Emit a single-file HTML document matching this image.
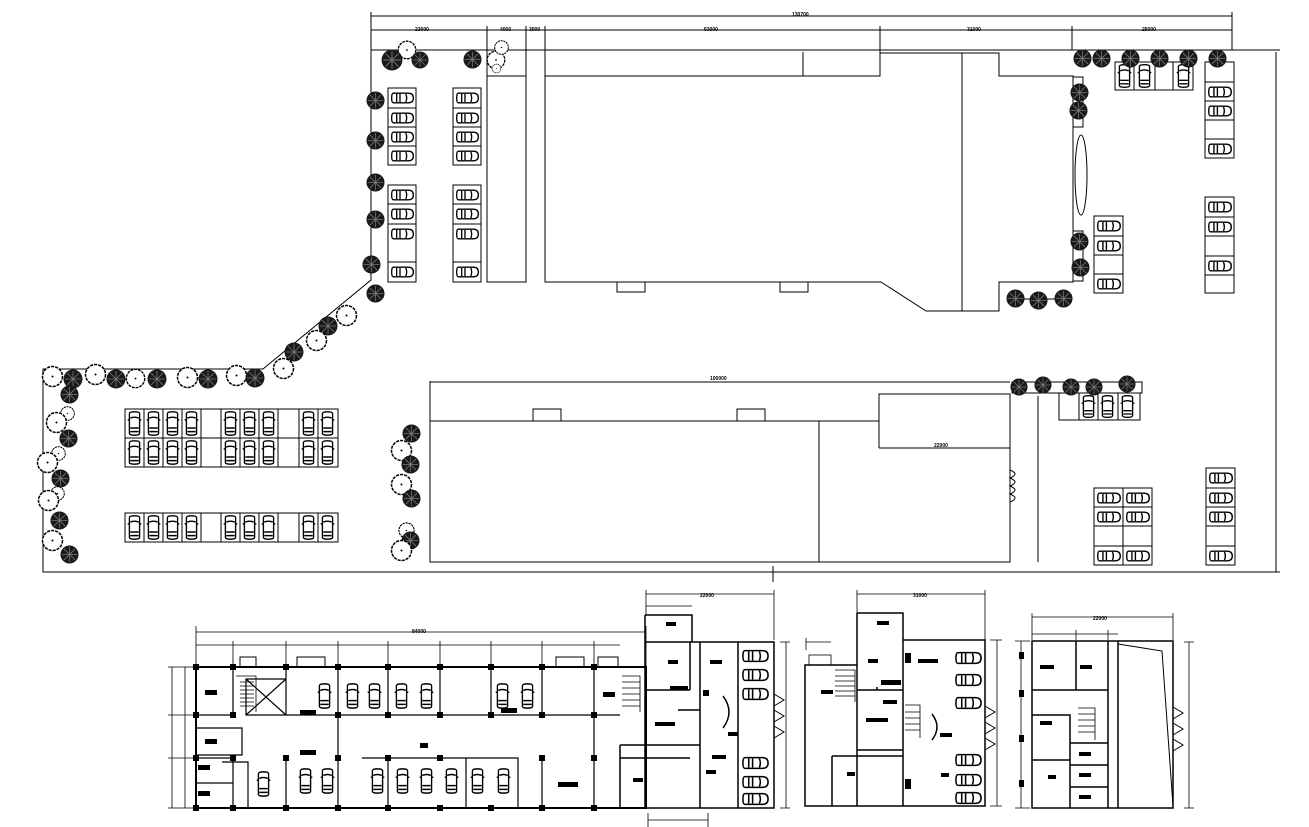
<!DOCTYPE html>
<html><head><meta charset="utf-8"><style>
html,body{margin:0;padding:0;background:#fff;}
svg{display:block;}
text{font-family:"Liberation Sans",sans-serif;font-size:5px;font-weight:bold;fill:#000;}
</style></head><body>
<svg width="1309" height="827" viewBox="0 0 1309 827" xmlns="http://www.w3.org/2000/svg">
<defs>
<symbol id="ch" viewBox="0 0 30 20" preserveAspectRatio="none"><g fill="none" stroke="#000" stroke-width="1.6"><path d="M4 4H22Q28 4 28 10Q28 16 22 16H4Q2 16 2 10Q2 4 4 4Z"/><path d="M8 5V15M12 5V15M19 5Q21 10 19 15"/></g></symbol>
<symbol id="cv" viewBox="0 0 20 30" preserveAspectRatio="none"><g fill="none" stroke="#000" stroke-width="1.6"><path d="M4 4Q4 2 10 2Q16 2 16 4V26Q16 28 10 28Q4 28 4 26Z"/><path d="M5 9Q10 7 15 9M5 20H15M5 24H15M2 11H4M16 11H18"/></g></symbol>
<symbol id="td" viewBox="0 0 20 20"><circle cx="10" cy="10" r="9.5" fill="#1a1a1a"/><g stroke="#777" stroke-width="0.8"><path d="M10 2V18M2 10H18M4 4L16 16M16 4L4 16"/></g></symbol>
<symbol id="to" viewBox="0 0 20 20"><circle cx="10" cy="10" r="8" fill="#fff" stroke="#000" stroke-width="1.2" stroke-dasharray="2.5 0.8"/><circle cx="10" cy="10" r="0.8" fill="#000"/></symbol>
</defs>
<g fill="none" stroke="#000" stroke-width="1">
<path d="M371 50H1280M371 50V280L263 369H43V572H1280"/>
<path d="M1276 52V572"/>
<path d="M371 16H1232M371 30H1232M371 12V50M487 26V76M526 26V76M545 26V76M880 26V76M1072 26V50M1232 12V50M803 52V76"/>
<rect x="487" y="76" width="39" height="206"/>
<path d="M545 76H880V53H999V76H1073V282H999V311H926L881 282H545Z"/>
<path d="M962 53V311"/>
<rect x="617" y="282" width="28" height="10"/><rect x="780" y="282" width="28" height="10"/>
<ellipse cx="1081" cy="175" rx="6" ry="40"/>
<rect x="1073" y="77" width="10" height="50"/><rect x="1073" y="231" width="10" height="50"/>
<path d="M1015 299H1065"/>
<path d="M388 88H416V165H388ZM388 185H416V282H388ZM388 108H416M388 127H416M388 146H416M388 204H416M388 224H416M388 262H416"/>
<path d="M453 88H481V165H453ZM453 185H481V282H453ZM453 108H481M453 127H481M453 146H481M453 204H481M453 224H481M453 262H481"/>
<path d="M1115 62H1193V90H1115ZM1134 62V90M1155 62V90M1173 62V90"/>
<path d="M1205 62H1234V158H1205ZM1205 82H1234M1205 101H1234M1205 120H1234M1205 139H1234"/>
<path d="M1205 197H1234V293H1205ZM1205 217H1234M1205 236H1234M1205 256H1234M1205 275H1234"/>
<path d="M1094 216H1123V293H1094ZM1094 236H1123M1094 255H1123M1094 274H1123"/>
<path d="M125 409H338V467H125ZM125 438H338M144 409V467M163 409V467M182 409V467M201 409V467M221 409V467M240 409V467M259 409V467M278 409V467M299 409V467M318 409V467"/>
<path d="M125 513H338V542H125ZM144 513V542M163 513V542M182 513V542M201 513V542M221 513V542M240 513V542M259 513V542M278 513V542M299 513V542M318 513V542"/>
<path d="M430 381V562H1010V394H879V421H430M430 382H1010"/>
<path d="M819 421V562M879 448H1010M879 421V448M1038 396V562"/>
<rect x="533" y="409" width="28" height="12"/><rect x="737" y="409" width="28" height="12"/>
<path d="M1010 470Q1020 474 1010 478Q1020 482 1010 486Q1020 490 1010 494Q1020 498 1010 502"/>
<path d="M773 566V582"/>
<rect x="1012" y="382" width="130" height="11"/>
<path d="M1059 393H1140V420H1059ZM1079 393V420M1098 393V420M1118 393V420"/>
<path d="M1094 488H1152V565H1094ZM1123 488V565M1094 507H1152M1094 526H1152M1094 546H1152"/>
<path d="M1206 468H1235V565H1206ZM1206 488H1235M1206 507H1235M1206 526H1235M1206 546H1235"/>
</g>
<g>
<use href="#ch" x="390" y="90" width="25" height="16"/><use href="#ch" x="390" y="110" width="25" height="16"/><use href="#ch" x="390" y="129" width="25" height="16"/><use href="#ch" x="390" y="148" width="25" height="16"/><use href="#ch" x="390" y="187" width="25" height="16"/><use href="#ch" x="390" y="206" width="25" height="16"/><use href="#ch" x="390" y="226" width="25" height="16"/><use href="#ch" x="390" y="264" width="25" height="16"/>
<use href="#ch" x="455" y="90" width="25" height="16"/><use href="#ch" x="455" y="110" width="25" height="16"/><use href="#ch" x="455" y="129" width="25" height="16"/><use href="#ch" x="455" y="148" width="25" height="16"/><use href="#ch" x="455" y="187" width="25" height="16"/><use href="#ch" x="455" y="206" width="25" height="16"/><use href="#ch" x="455" y="226" width="25" height="16"/><use href="#ch" x="455" y="264" width="25" height="16"/>
<use href="#cv" x="1116" y="63" width="17" height="26"/><use href="#cv" x="1136" y="63" width="17" height="26"/><use href="#cv" x="1175" y="63" width="17" height="26"/>
<use href="#ch" x="1207" y="84" width="26" height="16"/><use href="#ch" x="1207" y="103" width="26" height="16"/><use href="#ch" x="1207" y="141" width="26" height="16"/>
<use href="#ch" x="1207" y="199" width="26" height="16"/><use href="#ch" x="1207" y="219" width="26" height="16"/><use href="#ch" x="1207" y="258" width="26" height="16"/>
<use href="#ch" x="1096" y="218" width="26" height="16"/><use href="#ch" x="1096" y="238" width="26" height="16"/><use href="#ch" x="1096" y="276" width="26" height="16"/>
<use href="#cv" x="126" y="410" width="17" height="27"/><use href="#cv" x="145" y="410" width="17" height="27"/><use href="#cv" x="164" y="410" width="17" height="27"/><use href="#cv" x="183" y="410" width="17" height="27"/><use href="#cv" x="222" y="410" width="17" height="27"/><use href="#cv" x="241" y="410" width="17" height="27"/><use href="#cv" x="260" y="410" width="17" height="27"/><use href="#cv" x="300" y="410" width="17" height="27"/><use href="#cv" x="319" y="410" width="17" height="27"/>
<use href="#cv" x="126" y="439" width="17" height="27"/><use href="#cv" x="145" y="439" width="17" height="27"/><use href="#cv" x="164" y="439" width="17" height="27"/><use href="#cv" x="183" y="439" width="17" height="27"/><use href="#cv" x="222" y="439" width="17" height="27"/><use href="#cv" x="241" y="439" width="17" height="27"/><use href="#cv" x="260" y="439" width="17" height="27"/><use href="#cv" x="300" y="439" width="17" height="27"/><use href="#cv" x="319" y="439" width="17" height="27"/>
<use href="#cv" x="126" y="514" width="17" height="27"/><use href="#cv" x="145" y="514" width="17" height="27"/><use href="#cv" x="164" y="514" width="17" height="27"/><use href="#cv" x="183" y="514" width="17" height="27"/><use href="#cv" x="222" y="514" width="17" height="27"/><use href="#cv" x="241" y="514" width="17" height="27"/><use href="#cv" x="260" y="514" width="17" height="27"/><use href="#cv" x="300" y="514" width="17" height="27"/><use href="#cv" x="319" y="514" width="17" height="27"/>
<use href="#cv" x="1080" y="394" width="17" height="25"/><use href="#cv" x="1099" y="394" width="17" height="25"/><use href="#cv" x="1119" y="394" width="17" height="25"/>
<use href="#ch" x="1096" y="490" width="26" height="16"/><use href="#ch" x="1125" y="490" width="26" height="16"/><use href="#ch" x="1096" y="509" width="26" height="16"/><use href="#ch" x="1125" y="509" width="26" height="16"/><use href="#ch" x="1096" y="548" width="26" height="16"/><use href="#ch" x="1125" y="548" width="26" height="16"/>
<use href="#ch" x="1208" y="470" width="26" height="16"/><use href="#ch" x="1208" y="490" width="26" height="16"/><use href="#ch" x="1208" y="509" width="26" height="16"/><use href="#ch" x="1208" y="548" width="26" height="16"/>
</g>
<g>
<use href="#to" x="396" y="39" width="22" height="22"/><use href="#td" x="381" y="49" width="22" height="22"/><use href="#td" x="411" y="51" width="18" height="18"/><use href="#td" x="463" y="50" width="19" height="19"/>
<use href="#to" x="485" y="49" width="22" height="22"/><use href="#to" x="493" y="39" width="17" height="17"/><use href="#to" x="491" y="63" width="11" height="11"/>
<use href="#td" x="366" y="91" width="19" height="19"/><use href="#td" x="366" y="131" width="19" height="19"/><use href="#td" x="366" y="173" width="19" height="19"/><use href="#td" x="366" y="210" width="19" height="19"/><use href="#td" x="362" y="255" width="19" height="19"/><use href="#td" x="366" y="284" width="19" height="19"/>
<use href="#to" x="334" y="303" width="25" height="25"/><use href="#td" x="318" y="316" width="20" height="20"/><use href="#to" x="304" y="328" width="25" height="25"/><use href="#td" x="284" y="342" width="20" height="20"/><use href="#to" x="271" y="356" width="25" height="25"/>
<use href="#to" x="40" y="364" width="25" height="25"/><use href="#td" x="63" y="369" width="20" height="20"/><use href="#to" x="83" y="362" width="25" height="25"/><use href="#td" x="106" y="369" width="20" height="20"/><use href="#to" x="124" y="367" width="23" height="23"/><use href="#td" x="147" y="369" width="20" height="20"/><use href="#to" x="175" y="365" width="25" height="25"/><use href="#td" x="198" y="369" width="20" height="20"/><use href="#to" x="224" y="363" width="25" height="25"/><use href="#td" x="245" y="368" width="20" height="20"/>
<use href="#td" x="60" y="385" width="19" height="19"/><use href="#to" x="59" y="405" width="17" height="17"/><use href="#to" x="44" y="410" width="25" height="25"/><use href="#td" x="59" y="429" width="19" height="19"/><use href="#to" x="50" y="445" width="17" height="17"/><use href="#to" x="35" y="450" width="25" height="25"/><use href="#td" x="51" y="469" width="19" height="19"/><use href="#to" x="49" y="485" width="17" height="17"/><use href="#to" x="36" y="488" width="25" height="25"/><use href="#td" x="50" y="511" width="19" height="19"/><use href="#to" x="40" y="528" width="25" height="25"/><use href="#td" x="60" y="545" width="19" height="19"/>
<use href="#td" x="402" y="424" width="19" height="19"/><use href="#to" x="389" y="438" width="25" height="25"/><use href="#td" x="401" y="455" width="19" height="19"/><use href="#to" x="389" y="472" width="25" height="25"/><use href="#td" x="402" y="489" width="19" height="19"/><use href="#to" x="397" y="521" width="19" height="19"/><use href="#td" x="401" y="531" width="19" height="19"/><use href="#to" x="389" y="538" width="25" height="25"/>
<use href="#td" x="1006" y="289" width="19" height="19"/><use href="#td" x="1029" y="291" width="19" height="19"/><use href="#td" x="1054" y="289" width="19" height="19"/>
<use href="#td" x="1010" y="378" width="18" height="18"/><use href="#td" x="1034" y="376" width="18" height="18"/><use href="#td" x="1062" y="378" width="18" height="18"/><use href="#td" x="1085" y="378" width="18" height="18"/><use href="#td" x="1118" y="375" width="18" height="18"/>
<use href="#td" x="1073" y="49" width="19" height="19"/><use href="#td" x="1092" y="49" width="19" height="19"/><use href="#td" x="1121" y="49" width="19" height="19"/><use href="#td" x="1150" y="49" width="19" height="19"/><use href="#td" x="1179" y="49" width="19" height="19"/><use href="#td" x="1208" y="49" width="19" height="19"/>
<use href="#td" x="1070" y="83" width="19" height="19"/><use href="#td" x="1069" y="101" width="19" height="19"/><use href="#td" x="1070" y="232" width="19" height="19"/><use href="#td" x="1071" y="258" width="19" height="19"/>
</g>
<text x="415" y="31">23000</text><text x="500" y="31">4000</text><text x="529" y="31">3000</text><text x="704" y="31">53000</text><text x="967" y="31">31000</text><text x="1142" y="31">25000</text><text x="792" y="16">130700</text>
<text x="710" y="380">100000</text><text x="934" y="447">22000</text>
<!-- Plan 1 -->
<g fill="none" stroke="#000">
<path stroke-width="0.8" d="M196 632H646M196 645H620M196 626V667M233 641V667M286 641V667M338 641V667M388 641V667M440 641V667M491 641V667M542 641V667M594 641V667M646 626V667"/>
<path stroke-width="0.8" d="M172 667V808M185 667V808M168 667H196M168 715H196M168 758H196M168 808H196"/>
<rect x="196" y="667" width="450" height="141" stroke-width="2"/>
<path stroke-width="1.2" d="M196 715H233M233 667V715M246 679H286V715H246ZM246 679L286 715M286 679L246 715M286 667V715H338M338 667V715M338 715H620M440 667V715M491 667V715M542 667V715M388 667V715M594 667V715M196 728H242V755H196M196 758H233V808M196 783H233M233 758V808M286 758V808M338 758V808M362 758H466V808M388 758V808M466 758H518V808M542 758V808M594 758V808M338 715V758M594 715V758M222 762H248V808"/>
<rect x="240" y="657" width="16" height="10"/><rect x="297" y="657" width="28" height="10"/><rect x="556" y="657" width="28" height="10"/><rect x="598" y="657" width="20" height="10"/>
</g>
<g fill="#000">
<rect x="205" y="690" width="12" height="5"/><rect x="205" y="739" width="12" height="5"/><rect x="198" y="765" width="12" height="5"/><rect x="198" y="791" width="12" height="5"/><rect x="300" y="750" width="16" height="5"/><rect x="300" y="710" width="16" height="5"/><rect x="420" y="743" width="8" height="5"/><rect x="501" y="708" width="16" height="5"/><rect x="558" y="782" width="20" height="5"/><rect x="603" y="692" width="12" height="5"/>
<g>
<rect x="193" y="664" width="6" height="6"/><rect x="230" y="664" width="6" height="6"/><rect x="283" y="664" width="6" height="6"/><rect x="335" y="664" width="6" height="6"/><rect x="385" y="664" width="6" height="6"/><rect x="437" y="664" width="6" height="6"/><rect x="488" y="664" width="6" height="6"/><rect x="539" y="664" width="6" height="6"/><rect x="591" y="664" width="6" height="6"/>
<rect x="193" y="712" width="6" height="6"/><rect x="230" y="712" width="6" height="6"/><rect x="335" y="712" width="6" height="6"/><rect x="385" y="712" width="6" height="6"/><rect x="437" y="712" width="6" height="6"/><rect x="488" y="712" width="6" height="6"/><rect x="539" y="712" width="6" height="6"/><rect x="591" y="712" width="6" height="6"/>
<rect x="193" y="755" width="6" height="6"/><rect x="230" y="755" width="6" height="6"/><rect x="283" y="755" width="6" height="6"/><rect x="335" y="755" width="6" height="6"/><rect x="385" y="755" width="6" height="6"/><rect x="437" y="755" width="6" height="6"/><rect x="539" y="755" width="6" height="6"/><rect x="591" y="755" width="6" height="6"/>
<rect x="193" y="805" width="6" height="6"/><rect x="230" y="805" width="6" height="6"/><rect x="283" y="805" width="6" height="6"/><rect x="335" y="805" width="6" height="6"/><rect x="385" y="805" width="6" height="6"/><rect x="437" y="805" width="6" height="6"/><rect x="488" y="805" width="6" height="6"/><rect x="539" y="805" width="6" height="6"/><rect x="591" y="805" width="6" height="6"/>
</g>
</g>
<g>
<use href="#cv" x="316" y="682" width="17" height="28"/><use href="#cv" x="344" y="682" width="17" height="28"/><use href="#cv" x="366" y="682" width="17" height="28"/><use href="#cv" x="393" y="682" width="17" height="28"/><use href="#cv" x="418" y="682" width="17" height="28"/><use href="#cv" x="494" y="682" width="17" height="28"/><use href="#cv" x="519" y="682" width="17" height="28"/>
<use href="#cv" x="297" y="767" width="17" height="28"/><use href="#cv" x="319" y="767" width="17" height="28"/><use href="#cv" x="369" y="767" width="17" height="28"/><use href="#cv" x="394" y="767" width="17" height="28"/><use href="#cv" x="418" y="767" width="17" height="28"/><use href="#cv" x="443" y="767" width="17" height="28"/><use href="#cv" x="469" y="767" width="17" height="28"/><use href="#cv" x="495" y="767" width="17" height="28"/><use href="#cv" x="255" y="770" width="17" height="28"/>
</g>
<g fill="none" stroke="#000" stroke-width="0.8">
<path d="M236 676H256V712M240 682H254M240 686H254M240 690H254M240 694H254M240 698H254M240 702H254M240 706H254M622 676H640V712M622 682H640M622 688H640M622 694H640M622 700H640M622 706H640"/>
</g>
<g fill="none" stroke="#000">
<path stroke-width="0.8" d="M646 594H774M646 590V615M774 590V640M646 606H692M786 642V808M780 642H790M780 808H790M648 820H708M648 813V827M708 813V827"/>
<path stroke-width="1.5" d="M645 615H692V642M645 615V808M700 642H774V808H620V758H690M646 642H700M700 642V808M738 642V808M646 690H690M690 642V690M620 745H700M620 745V808M678 710H700V760"/>
<path stroke-width="1" d="M774 694L784 700L774 706M774 710L784 716L774 722M774 726L784 732L774 738"/>
<path d="M723 696Q735 712 723 728" stroke-width="1.5"/>
</g>
<g><use href="#ch" x="741" y="647" width="29" height="18"/><use href="#ch" x="741" y="666" width="29" height="18"/><use href="#ch" x="741" y="685" width="29" height="18"/><use href="#ch" x="741" y="754" width="29" height="18"/><use href="#ch" x="741" y="773" width="29" height="18"/><use href="#ch" x="741" y="790" width="29" height="18"/></g>
<g fill="#000"><rect x="666" y="622" width="10" height="4"/><rect x="668" y="660" width="10" height="4"/><rect x="655" y="722" width="20" height="4"/><rect x="710" y="660" width="12" height="4"/><rect x="728" y="732" width="10" height="4"/><rect x="633" y="778" width="10" height="4"/><rect x="706" y="770" width="10" height="4"/><rect x="712" y="755" width="14" height="4"/><rect x="670" y="686" width="18" height="4"/><rect x="703" y="690" width="6" height="6"/></g>
<!-- Plan 2 -->
<g fill="none" stroke="#000">
<path stroke-width="0.8" d="M857 594H985M857 590V613M985 590V640M806 642H831M806 638V650M997 640V806M990 640H1002M990 806H1002"/>
<path stroke-width="1.5" d="M857 613H903V640M857 613V806M903 640H985V806H805V665H857M903 640V806M857 690H903M877 687V690M857 750H903M832 756H903M832 756V806"/>
<rect x="809" y="655" width="22" height="10" stroke-width="0.8"/>
<path stroke-width="1" d="M985 706L995 712L985 718M985 722L995 728L985 734M985 738L995 744L985 750"/>
<path d="M932 714Q942 727 932 740" stroke-width="1.5"/>
<path stroke-width="0.8" d="M835 670H855V702M835 676H855M835 681H855M835 686H855M835 691H855M835 696H855M905 705H920V738M905 712H920M905 718H920M905 724H920M905 730H920"/>
</g>
<g><use href="#ch" x="954" y="649" width="29" height="18"/><use href="#ch" x="954" y="671" width="29" height="18"/><use href="#ch" x="954" y="694" width="29" height="18"/><use href="#ch" x="954" y="751" width="29" height="18"/><use href="#ch" x="954" y="771" width="29" height="18"/><use href="#ch" x="954" y="789" width="29" height="18"/></g>
<g fill="#000"><rect x="877" y="621" width="12" height="4"/><rect x="821" y="690" width="12" height="4"/><rect x="866" y="718" width="22" height="4"/><rect x="847" y="772" width="8" height="4"/><rect x="868" y="659" width="10" height="4"/><rect x="918" y="659" width="20" height="4"/><rect x="940" y="733" width="12" height="4"/><rect x="941" y="773" width="8" height="4"/><rect x="905" y="653" width="6" height="10"/><rect x="905" y="779" width="6" height="10"/><rect x="881" y="680" width="20" height="5"/><rect x="883" y="700" width="14" height="4"/></g>
<!-- Plan 3 -->
<g fill="none" stroke="#000">
<path stroke-width="0.8" d="M1032 617H1173M1032 613V640M1173 613V640M1032 634H1118M1076 630V640M1108 630V640M1021 641V808M1015 641H1030M1015 808H1030M1189 642V808M1184 642H1194M1184 808H1194"/>
<path stroke-width="1.5" d="M1032 641H1173V808H1032ZM1076 641V690M1032 690H1108V641M1108 641V808M1118 641V808M1032 715H1070V808M1070 760H1032M1070 743H1108M1070 743V808M1070 765H1108M1070 787H1108"/>
<path stroke-width="1" d="M1118 644L1162 651L1173 806"/>
<path stroke-width="1" d="M1173 707L1183 713L1173 719M1173 723L1183 729L1173 735M1173 739L1183 745L1173 751"/>
<path stroke-width="0.8" d="M1078 708H1095V740M1078 714H1095M1078 720H1095M1078 726H1095M1078 732H1095"/>
</g>
<g fill="#000"><rect x="1040" y="665" width="14" height="4"/><rect x="1080" y="665" width="12" height="4"/><rect x="1040" y="721" width="12" height="4"/><rect x="1048" y="775" width="8" height="4"/><rect x="1079" y="752" width="12" height="4"/><rect x="1079" y="773" width="12" height="4"/><rect x="1079" y="795" width="12" height="4"/><rect x="1019" y="652" width="5" height="7"/><rect x="1019" y="690" width="5" height="7"/><rect x="1019" y="735" width="5" height="7"/><rect x="1019" y="780" width="5" height="7"/></g>
<text x="700" y="597">22000</text><text x="913" y="597">31000</text><text x="1093" y="620">22000</text><text x="412" y="633">84000</text>
</svg>
</body></html>
